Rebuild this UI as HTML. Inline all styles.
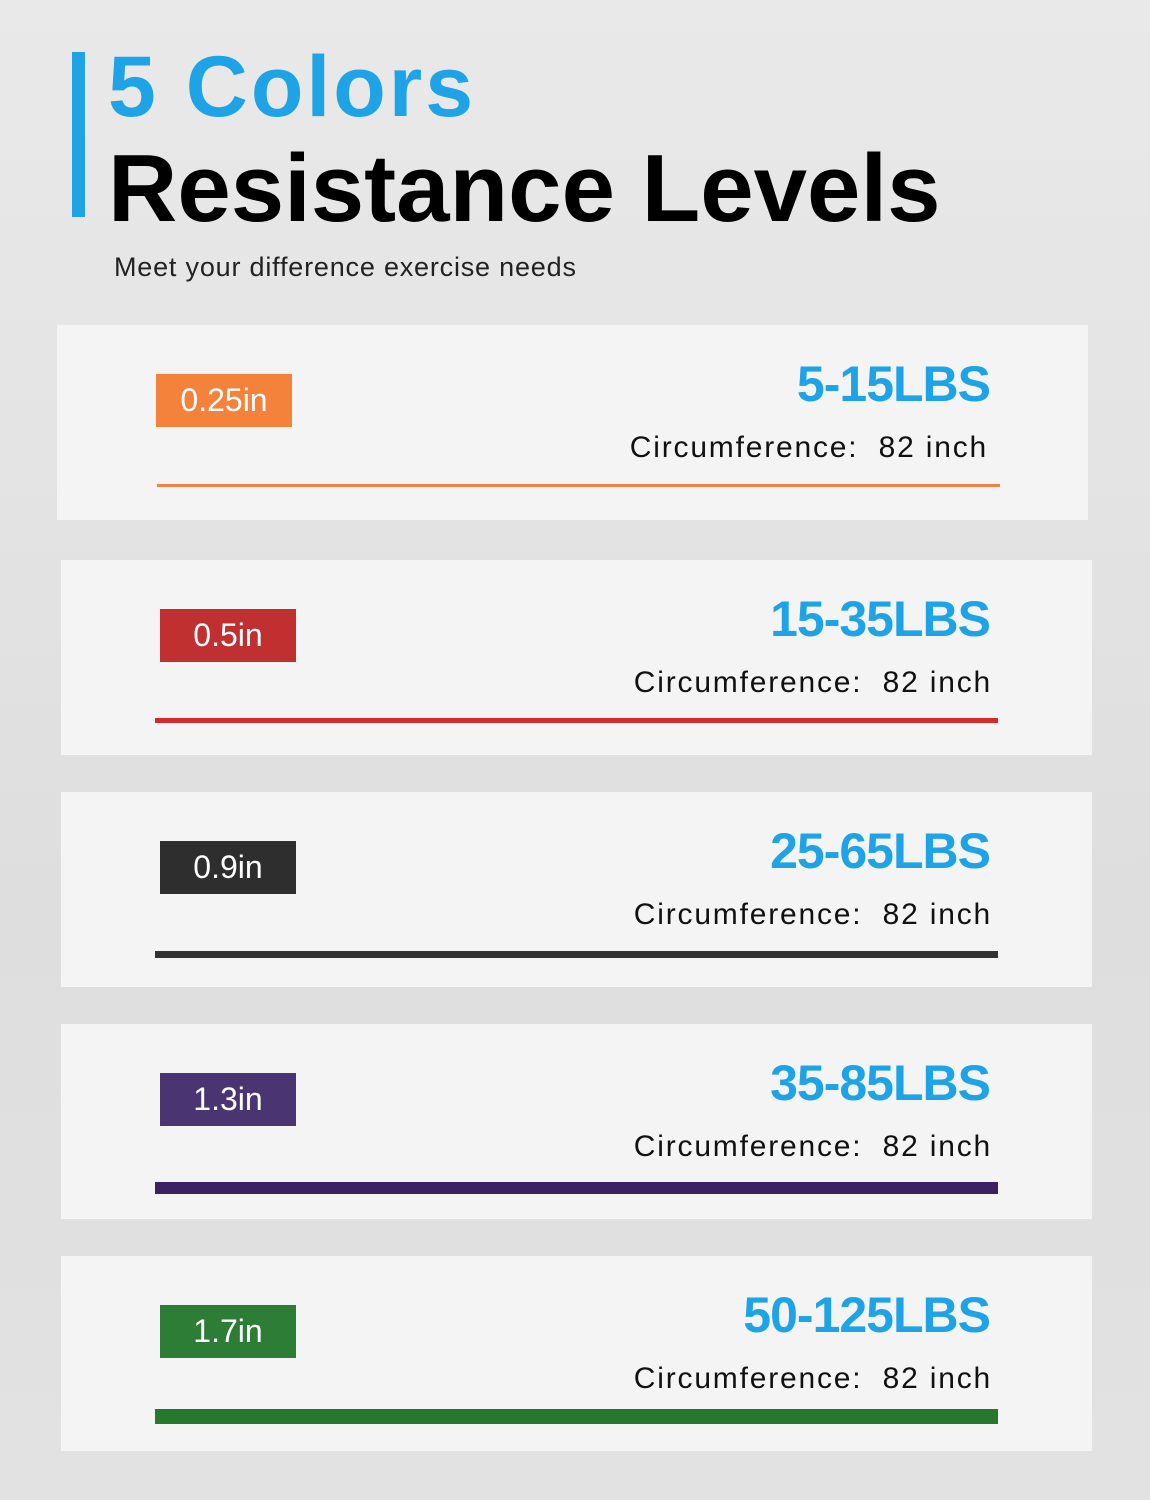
<!DOCTYPE html>
<html><head><meta charset="utf-8"><style>
*{margin:0;padding:0;box-sizing:border-box}
body{width:1150px;height:1500px;overflow:hidden;font-family:"Liberation Sans","DejaVu Sans",sans-serif;
background:linear-gradient(180deg,#e9e9e9 0%,#e4e4e4 30%,#dedede 60%,#e2e2e2 100%);position:relative}
.bar{position:absolute;left:72px;top:52px;width:13px;height:165px;background:#1ea4e6}
.t1{position:absolute;left:108px;top:38px;font-size:86px;font-weight:900;color:#1ea4e6;letter-spacing:3px}
.t2{position:absolute;left:108px;top:134px;font-size:96px;font-weight:900;color:#000;letter-spacing:0px}
.sub{position:absolute;left:114px;top:252px;font-size:27px;color:#222;letter-spacing:0.8px}
.card{position:absolute;width:1031px;height:195px;background:#f4f4f4}
.badge{position:absolute;width:136px;height:53px;color:#fff;font-size:32px;line-height:53px;text-align:center}
.lbs{position:absolute;right:102px;top:30px;font-size:50px;font-weight:900;color:#1ea4e6;letter-spacing:-1px}
.circ{position:absolute;right:100px;top:106px;font-size:30px;color:#111;letter-spacing:1.8px}
.line{position:absolute;left:94px;width:843px}
</style></head><body>
<div class="bar"></div>
<div class="t1">5 Colors</div>
<div class="t2">Resistance Levels</div>
<div class="sub">Meet your difference exercise needs</div>

<div class="card" style="left:57px;top:325px">
<div class="badge" style="left:99px;top:49px;background:#f5823a">0.25in</div>
<div class="lbs" style="right:98px">5-15LBS</div>
<div class="circ" style="right:100px">Circumference:&nbsp; 82 inch</div>
<div class="line" style="left:100px;top:159px;height:3px;background:#ef8244"></div>
</div>

<div class="card" style="left:61px;top:560px">
<div class="badge" style="left:99px;top:49px;background:#c03030">0.5in</div>
<div class="lbs">15-35LBS</div>
<div class="circ">Circumference:&nbsp; 82 inch</div>
<div class="line" style="top:158px;height:5px;background:#d52b2b"></div>
</div>

<div class="card" style="left:61px;top:792px">
<div class="badge" style="left:99px;top:49px;background:#2e2e2e">0.9in</div>
<div class="lbs">25-65LBS</div>
<div class="circ">Circumference:&nbsp; 82 inch</div>
<div class="line" style="top:159px;height:7px;background:#333"></div>
</div>

<div class="card" style="left:61px;top:1024px">
<div class="badge" style="left:99px;top:49px;background:#4a3472">1.3in</div>
<div class="lbs">35-85LBS</div>
<div class="circ">Circumference:&nbsp; 82 inch</div>
<div class="line" style="top:158px;height:12px;background:#3b2162"></div>
</div>

<div class="card" style="left:61px;top:1256px">
<div class="badge" style="left:99px;top:49px;background:#2e7d36">1.7in</div>
<div class="lbs">50-125LBS</div>
<div class="circ">Circumference:&nbsp; 82 inch</div>
<div class="line" style="top:153px;height:15px;background:#27782c"></div>
</div>
</body></html>
